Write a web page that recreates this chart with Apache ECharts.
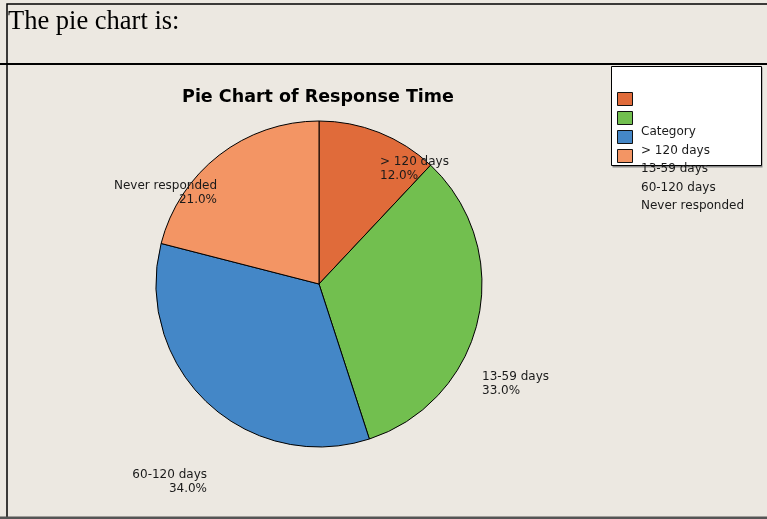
<!DOCTYPE html>
<html>
<head>
<meta charset="utf-8">
<script src="https://cdn.jsdelivr.net/npm/echarts@6/dist/echarts.min.js"></script>
<style>
html,body{margin:0;padding:0;background:#ECE8E1;}
#chart{width:767px;height:519px;}
</style>
</head>
<body>
<div id="chart"></div>
<script>
var categories = ['> 120 days', '13-59 days', '60-120 days', 'Never responded'];
var percents = [12.0, 33.0, 34.0, 21.0];
var colors = ['#E06B3A', '#72BF4F', '#4487C7', '#F39564'];
var legendTitle = 'Category';
var chartTitle = 'Pie Chart of Response Time';
var headerText = 'The pie chart is:';

// label anchor placement (style, not data)
var labelSpots = [
  {x: 380, y: 169, align: 'left'},
  {x: 482, y: 384, align: 'left'},
  {x: 207, y: 482, align: 'right'},
  {x: 217, y: 193, align: 'right'}
];

var chart = echarts.init(document.getElementById('chart'), null, {renderer: 'canvas'});

var legendTextLines = [legendTitle].concat(categories);
var legendTexts = legendTextLines.map(function (t, i) {
  return {
    type: 'text', left: 641, top: 126 + i * 18.5, z: 20,
    style: {text: t, fill: '#1a1a1a', font: '12px "DejaVu Sans"'}
  };
});

var option = {
  backgroundColor: '#ECE8E1',
  animation: false,
  title: {
    text: chartTitle,
    left: 318, top: 88, textAlign: 'center', padding: 0,
    textStyle: {fontFamily: 'DejaVu Sans', fontWeight: 'bold', fontSize: 17.5, color: '#000'}
  },
  legend: {
    orient: 'vertical', left: 617, top: 92, padding: 0,
    itemWidth: 15, itemHeight: 13, itemGap: 5,
    icon: 'rect', selectedMode: false,
    formatter: function () { return ''; },
    textStyle: {fontSize: 10, lineHeight: 12},
    itemStyle: {borderColor: '#111', borderWidth: 1},
    z: 30
  },
  graphic: [
    {type: 'text', left: 8, top: 9, style: {text: headerText, fill: '#000', font: '26.5px "Liberation Serif"'}},
    {type: 'rect', shape: {x: 7, y: 4, width: 770, height: 600}, style: {fill: 'none', stroke: '#000', lineWidth: 1.5}, z: 1},
    {type: 'rect', shape: {x: 0, y: 63, width: 767, height: 2}, style: {fill: '#000'}, z: 2},
    {type: 'rect', shape: {x: 0, y: 516.5, width: 767, height: 3}, style: {fill: '#555'}, z: 2},
    {type: 'rect', shape: {x: 612.5, y: 67.5, width: 150, height: 100}, style: {fill: '#888', stroke: 'none'}, z: 9},
    {type: 'rect', shape: {x: 611.5, y: 66.5, width: 150, height: 99}, style: {fill: '#fff', stroke: '#000', lineWidth: 1}, z: 10}
  ].concat(legendTexts),
  series: [{
    type: 'pie',
    center: [319, 284],
    radius: 163,
    startAngle: 90,
    clockwise: true,
    avoidLabelOverlap: false,
    z: 5,
    data: categories.map(function (c, i) {
      return {name: c, value: percents[i], itemStyle: {color: colors[i]}};
    }),
    itemStyle: {borderColor: '#000', borderWidth: 1},
    label: {
      show: true,
      position: 'outside',
      formatter: function (p) { return p.name + '\n' + p.value.toFixed(1) + '%'; },
      fontFamily: 'DejaVu Sans',
      fontSize: 12,
      lineHeight: 14,
      color: '#1a1a1a'
    },
    labelLine: {show: false},
    labelLayout: function (p) {
      var s = labelSpots[p.dataIndex];
      return {x: s.x, y: s.y, align: s.align, verticalAlign: 'middle', hideOverlap: false};
    },
    emphasis: {disabled: true}
  }]
};
chart.setOption(option);
</script>
</body>
</html>
